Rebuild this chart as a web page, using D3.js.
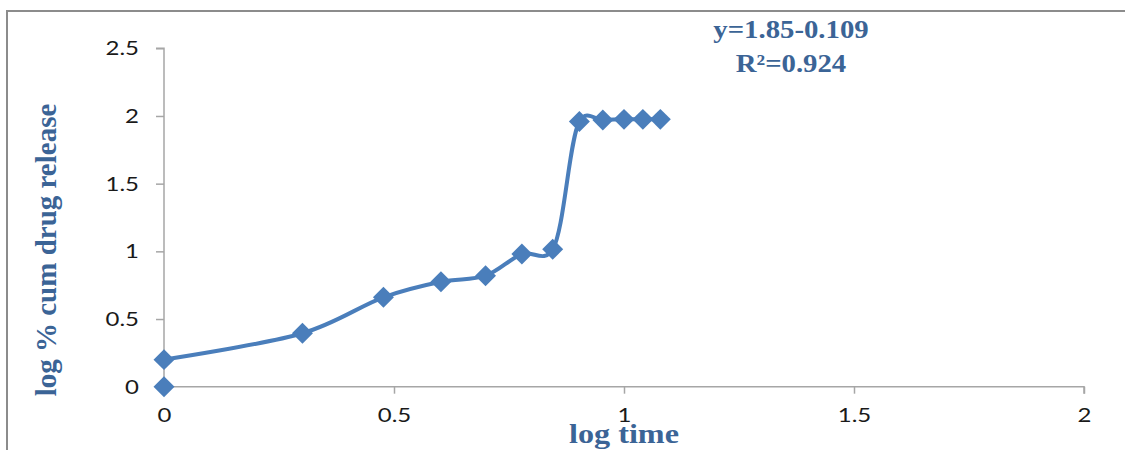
<!DOCTYPE html>
<html>
<head>
<meta charset="utf-8">
<script src="https://cdn.jsdelivr.net/npm/d3@7"></script>
<style>
  html, body { margin: 0; padding: 0; background: #fff; }
  svg { display: block; }
</style>
</head>
<body>
<svg id="chart" width="1125" height="450"></svg>
<script>
// log time (x) and log % cumulative drug release (y)
const logTime    = [0, 0.301, 0.477, 0.602, 0.699, 0.778, 0.845, 0.903, 0.954, 1.0, 1.041, 1.079];
const logRelease = [0.20, 0.395, 0.66, 0.775, 0.82, 0.98, 1.015, 1.96, 1.97, 1.975, 1.975, 1.975];
// initial reading plotted as a lone marker
const startTime    = [0];
const startRelease = [0];

const xTicks = [0, 0.5, 1, 1.5, 2];
const yTicks = [0, 0.5, 1, 1.5, 2, 2.5];
const xTickLabels = ["0", "0.5", "1", "1.5", "2"];
const yTickLabels = ["0", "0.5", "1", "1.5", "2", "2.5"];

const equationLines = ["y=1.85-0.109", "R²=0.924"];
const xTitle = "log time";
const yTitle = "log % cum drug release";

const blue = "#4a7ebb";
const titleBlue = "#3b6496";
const axisGrey = "#a6a6a6";

const svg = d3.select("#chart");

// outer frame (right and bottom edges fall outside the view)
svg.append("rect")
  .attr("x", 7).attr("y", 11)
  .attr("width", 1140).attr("height", 460)
  .attr("fill", "none").attr("stroke", "#8c8c8c").attr("stroke-width", 2);

const x = d3.scaleLinear().domain([0, 2]).range([164, 1084]);
const y = d3.scaleLinear().domain([0, 2.5]).range([386.7, 48.3]);

// axes
const yAxis = d3.axisLeft(y).tickValues(yTicks)
  .tickFormat((d, i) => yTickLabels[i]).tickSize(8).tickPadding(17);
const xAxis = d3.axisBottom(x).tickValues(xTicks)
  .tickFormat((d, i) => xTickLabels[i]).tickSize(7).tickPadding(14);

function styleAxis(g) {
  g.select(".domain").attr("stroke", axisGrey).attr("stroke-width", 1.5);
  g.selectAll(".tick line").attr("stroke", axisGrey).attr("stroke-width", 1.5);
  g.selectAll(".tick text")
    .attr("fill", "#1a1a1a")
    .style("font-family", "Lato, 'Open Sans', sans-serif")
    .style("font-size", "20px");
}

const gy = svg.append("g").attr("transform", `translate(${x(0)},0)`).call(yAxis).call(styleAxis);
gy.select(".domain").attr("d", `M-8,${y(2.5)}H0V${y(0)}`);
// widen the y tick labels, keeping their right edge in place
gy.selectAll(".tick text").attr("transform", "translate(-25,0) scale(1.2,1) translate(25,0)");
const gx = svg.append("g").attr("transform", `translate(0,${y(0)})`).call(xAxis).call(styleAxis);
gx.select(".domain").attr("d", `M${x(0)},0H${x(2)}V7`);
gx.selectAll(".tick text").attr("transform", "scale(1.2,1)");

// smoothed release curve
const pts = logTime.map((t, i) => [t, logRelease[i]]);
const line = d3.line()
  .x(d => x(d[0])).y(d => y(d[1]))
  .curve(d3.curveCatmullRom.alpha(0.2));

svg.append("path")
  .datum(pts)
  .attr("d", line)
  .attr("fill", "none")
  .attr("stroke", blue)
  .attr("stroke-width", 4)
  .attr("stroke-linejoin", "round");

// diamond markers
const diamond = d3.symbol().type(d3.symbolSquare).size(220);
const markerPts = pts.concat(startTime.map((t, i) => [t, startRelease[i]]));
svg.append("g").selectAll("path")
  .data(markerPts)
  .join("path")
  .attr("d", diamond)
  .attr("transform", d => `translate(${x(d[0])},${y(d[1])}) rotate(45)`)
  .attr("fill", blue);

// axis titles
svg.append("text")
  .attr("transform", `translate(624,443) scale(1.15,1)`)
  .attr("text-anchor", "middle")
  .attr("fill", titleBlue)
  .style("font-family", "'Liberation Serif', 'Times New Roman', serif")
  .style("font-weight", "bold")
  .style("font-size", "28px")
  .text(xTitle);

svg.append("text")
  .attr("transform", `translate(56,250) rotate(-90)`)
  .attr("text-anchor", "middle")
  .attr("fill", titleBlue)
  .style("font-family", "'Liberation Serif', 'Times New Roman', serif")
  .style("font-weight", "bold")
  .style("font-size", "29px")
  .text(yTitle);

// fitted equation annotation
svg.append("g").selectAll("text")
  .data(equationLines)
  .join("text")
  .attr("transform", (d, i) => `translate(791,${38 + i * 34}) scale(1.15,1)`)
  .attr("text-anchor", "middle")
  .attr("fill", titleBlue)
  .style("font-family", "'Liberation Serif', 'Times New Roman', serif")
  .style("font-weight", "bold")
  .style("font-size", "25px")
  .text(d => d);
</script>
</body>
</html>
